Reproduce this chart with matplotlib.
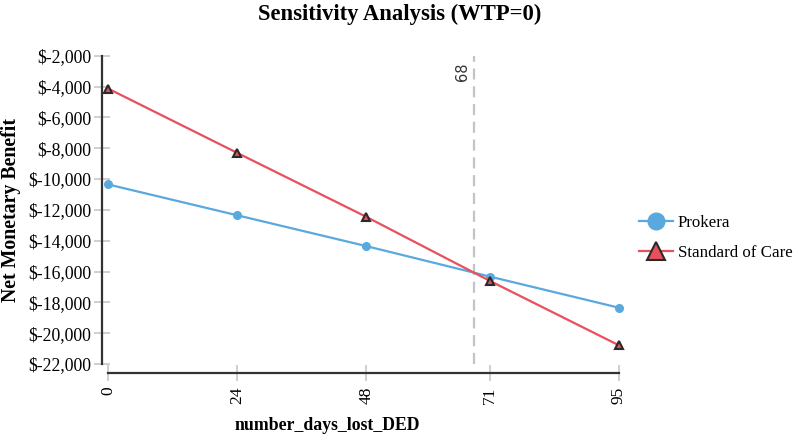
import matplotlib
matplotlib.use("Agg")
import matplotlib.pyplot as plt
from matplotlib.lines import Line2D
from matplotlib.ticker import FuncFormatter

days = [0, 24, 48, 71, 95]
prokera = [-10350, -12350, -14350, -16330, -18350]
standard_care = [-4130, -8300, -12450, -16610, -20790]
y_ticks = list(range(-22000, -1999, 2000))
threshold = 68

blue = "#5aa9de"
red = "#e8505b"
serif = ["Liberation Serif", "DejaVu Serif"]

fig = plt.figure(figsize=(7.97, 4.37), dpi=100)
W, H = 797, 437
left, right, top, bottom = 101.7, 619, 55.7, 373.3
ax = fig.add_axes([left / W, 1 - bottom / H, (right - left) / W, (bottom - top) / H])

x0 = -(108 - left) / ((619 - 108) / 95)
ax.set_xlim(x0, 95)
ybot = -22000 - (bottom - 364) / ((364 - top) / 20000)
ax.set_ylim(ybot, -2000)

ax.plot(days, prokera, color=blue, lw=1.6, marker="o", ms=5.5, mec=blue, mfc=blue,
        clip_on=False, zorder=3)
ax.plot(days, standard_care, color=red, lw=1.6, marker="^", ms=6, mfc=red, mec="#2a2a2a",
        mew=1.5, clip_on=False, zorder=4)

ax.plot([threshold, threshold], [-22000, -2000], color="#c4c4c4", lw=1.6,
        dashes=(5, 3), zorder=1)
ax.annotate(str(threshold), xy=(threshold, -2000), xytext=(-3, -5),
            textcoords="offset points", rotation=90, ha="right", va="top",
            fontsize=10.5, color="#333333", family="DejaVu Sans")

for s in ["top", "right"]:
    ax.spines[s].set_visible(False)
ax.spines["left"].set_bounds(-22000, -2000)
ax.spines["bottom"].set_bounds(0, 95)
for s in ["left", "bottom"]:
    ax.spines[s].set_color("#333333")
    ax.spines[s].set_linewidth(1.6)
ax.spines["left"].set_zorder(5)

ax.set_xticks(days)
ax.set_xticklabels([str(d) for d in days], rotation=90, family=serif, fontsize=12.5)
ax.set_yticks(y_ticks)
ax.yaxis.set_major_formatter(FuncFormatter(lambda v, p: "$" + format(int(v), ",")))
for lab in ax.get_yticklabels():
    lab.set_family(serif)
    lab.set_fontsize(12.8)
ax.tick_params(axis="both", direction="inout", length=11, width=1.3, color="#cccccc",
               pad=2)
ax.tick_params(axis="x", pad=4)

fig.text(400 / W, 1 - 14 / H, "Sensitivity Analysis (WTP=0)", ha="center", va="center",
         fontsize=16.3, fontweight="bold", family=serif)
fig.text(327 / W, 1 - 426 / H, "number_days_lost_DED", ha="center", va="center",
         fontsize=12.8, fontweight="bold", family=serif)
fig.text(11 / W, 1 - 210 / H, "Net Monetary Benefit", ha="center", va="center",
         rotation=90, fontsize=14.3, fontweight="bold", family=serif)

handles = [
    Line2D([], [], color=blue, lw=1.6, marker="o", ms=12, mfc=blue, mec=blue),
    Line2D([], [], color=red, lw=1.6, marker="^", ms=12.5, mfc=red, mec="#2a2a2a", mew=1.5),
]
fig.legend(handles, ["Prokera", "Standard of Care"], loc="center left",
           bbox_to_anchor=(639 / W, 1 - 238 / H), frameon=False,
           prop={"family": serif, "size": 12.2}, handlelength=2.0, handletextpad=0.3,
           labelspacing=0.8, borderpad=0, borderaxespad=0)

fig.savefig("out.png", dpi=100)
